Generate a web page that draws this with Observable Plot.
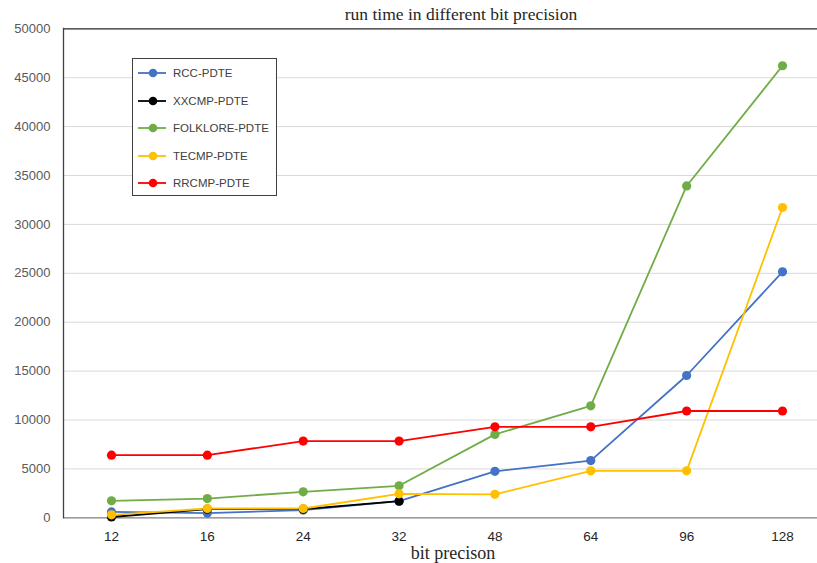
<!DOCTYPE html>
<html>
<head>
<meta charset="utf-8">
<script src="https://cdn.jsdelivr.net/npm/d3@7"></script>
<script src="https://cdn.jsdelivr.net/npm/@observablehq/plot@0.6"></script>
<style>
  html, body { margin: 0; padding: 0; background: #fff; }
  #wrap { position: relative; width: 817px; height: 563px; }
  #title { position: absolute; top: 4px; left: 261px; width: 400px; text-align: center;
           font-family: "Liberation Serif", serif; font-size: 17.5px; color: #262626; }
  #xlabel { position: absolute; top: 543px; left: 353px; width: 200px; text-align: center;
           font-family: "Liberation Serif", serif; font-size: 18px; color: #262626; }
  #legend { position: absolute; left: 132px; top: 58px; width: 145px; height: 138px;
            border: 1px solid #404040; background: #fff; box-sizing: border-box; }
  .item { position: absolute; left: 5px; height: 14px; display: flex; align-items: center;
          font-family: "Liberation Sans", sans-serif; font-size: 11.5px; color: #404040; }
  .item svg { margin-right: 7px; }
</style>
</head>
<body>
<div id="wrap">
  <div id="chart"></div>
  <div id="title">run time in different bit precision</div>
  <div id="xlabel">bit precison</div>
  <div id="legend"></div>
</div>
<script>
const bits = ["12", "16", "24", "32", "48", "64", "96", "128"];
const seriesNames = ["RCC-PDTE", "XXCMP-PDTE", "FOLKLORE-PDTE", "TECMP-PDTE", "RRCMP-PDTE"];
const seriesColors = ["#4472C4", "#000000", "#70AD47", "#FFC000", "#FF0000"];
const rcc      = [600, 480, 790, 1700, 4750, 5850, 14550, 25150];
const xxcmp    = [80, 880, 880, 1700];
const folklore = [1740, 1970, 2660, 3270, 8530, 11450, 33930, 46220];
const tecmp    = [300, 950, 950, 2450, 2400, 4800, 4800, 31730];
const rrcmp    = [6400, 6400, 7850, 7850, 9300, 9300, 10920, 10920];
const yTicks   = [0, 5000, 10000, 15000, 20000, 25000, 30000, 35000, 40000, 45000, 50000];

const allSeries = [rcc, xxcmp, folklore, tecmp, rrcmp];
const data = [];
allSeries.forEach((vals, si) => {
  vals.forEach((v, i) => data.push({series: seriesNames[si], bit: bits[i], value: v}));
});

const chart = Plot.plot({
  width: 817,
  height: 563,
  marginLeft: 63,
  marginRight: 0,
  marginTop: 28,
  marginBottom: 46,
  style: {background: "#fff", overflow: "visible"},
  x: {type: "point", domain: bits, range: [111, 782], padding: 0, round: false, label: null},
  y: {domain: [0, 50000], range: [517.3, 28.3], label: null},
  color: {domain: seriesNames, range: seriesColors},
  marks: [
    Plot.ruleY(yTicks.slice(1, -1), {stroke: "#d9d9d9", strokeWidth: 1}),
    Plot.ruleY([50000], {stroke: "#262626", strokeWidth: 1.3}),
    Plot.ruleY([0], {stroke: "#7f7f7f", strokeWidth: 1.3}),
    Plot.frame({anchor: "left", stroke: "#404040", strokeWidth: 1.3}),
    Plot.axisY({ticks: yTicks, tickSize: 0, tickPadding: 13, tickFormat: d => String(d),
                fontSize: 13, fill: "#595959", label: null, fontFamily: "Liberation Sans"}),
    Plot.axisX({tickSize: 0, tickPadding: 14, fontSize: 13.5, fill: "#262626", label: null,
                fontFamily: "Liberation Sans"}),
    Plot.line(data, {x: "bit", y: "value", z: "series", stroke: "series", strokeWidth: 1.8}),
    Plot.dot(data, {x: "bit", y: "value", fill: "series", r: 4.6, stroke: "none"})
  ]
});
document.getElementById("chart").appendChild(chart);

const legend = document.getElementById("legend");
const rowTops = [7, 35, 62, 90, 117];
seriesNames.forEach((name, i) => {
  const div = document.createElement("div");
  div.className = "item";
  div.style.top = rowTops[i] + "px";
  div.innerHTML = `<svg width="28" height="14"><line x1="0" y1="7" x2="28" y2="7" stroke="${seriesColors[i]}" stroke-width="1.8"/><circle cx="15" cy="7" r="4.3" fill="${seriesColors[i]}"/></svg>${name}`;
  legend.appendChild(div);
});
</script>
</body>
</html>
